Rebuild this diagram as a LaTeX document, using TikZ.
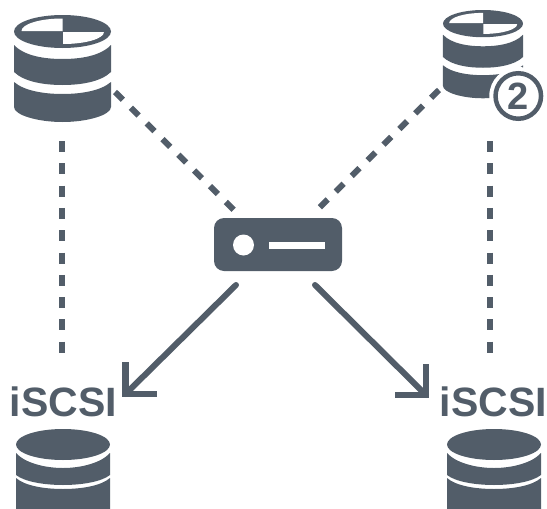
\documentclass[tikz,border=0pt]{standalone}
\usepackage{fontspec}
\setmainfont{Liberation Sans}
\definecolor{ink}{HTML}{525D69}
\tikzset{
  dashline/.style={draw=ink,line width=6pt,dash pattern=on 11pt off 11.3pt},
  arrowline/.style={draw=ink,line width=6pt,line cap=round},
  headline/.style={draw=ink,line width=6.5pt,line join=miter},
  label/.style={text=ink,font=\fontsize{41}{41}\selectfont\bfseries,inner sep=0pt},
  serverbox/.style={fill=ink,rounded corners=10pt,minimum width=128pt,minimum height=53pt,inner sep=0pt}
}
\newcommand{\topdb}[3]{%
 \begin{scope}[shift={(#1,#2)},x=#3pt,y=-#3pt]
  \fill[ink] (0,16.5) ellipse (48.5 and 16.5);
  \fill[white] (0,3.5) arc[start angle=270,end angle=180,x radius=41,y radius=12.5] -- (0,16) -- cycle;
  \fill[white] (41.5,17) arc[start angle=0,end angle=90,x radius=41,y radius=12] -- (0.5,17) -- cycle;
  \fill[ink] (-48.5,30) .. controls (-38,41) and (-18,44) .. (0,44) .. controls (18,44) and (38,41) .. (48.5,30)
     -- (48.5,57) .. controls (38,67) and (18,70) .. (0,70) .. controls (-18,70) and (-38,67) .. (-48.5,57) -- cycle;
  \fill[ink] (-48.5,67) .. controls (-38,76) and (-18,79) .. (0,79) .. controls (18,79) and (38,76) .. (48.5,67)
     -- (48.5,92) .. controls (48.5,100) and (25,107) .. (0,107) .. controls (-25,107) and (-48.5,100) .. (-48.5,92) -- cycle;
 \end{scope}}
\newcommand{\botdb}[2]{%
 \begin{scope}[shift={(#1,#2)}]
  \fill[ink] (0,15.5) ellipse (47 and 15.5);
  \fill[ink] (-47,24) .. controls (-38,34) and (-18,39) .. (0,39) .. controls (18,39) and (38,34) .. (47,24)
     -- (47,46) .. controls (38,53) and (18,56) .. (0,56) .. controls (-18,56) and (-38,53) .. (-47,46) -- cycle;
  \fill[ink] (-47,49) .. controls (-38,57) and (-18,60) .. (0,60) .. controls (18,60) and (38,57) .. (47,49)
     -- (47,80) -- (-47,80) -- cycle;
 \end{scope}}
\begin{document}
\begin{tikzpicture}[x=1pt,y=-1pt]
\useasboundingbox (0,0) rectangle (547,509);
\clip (0,0) rectangle (547,509);
\topdb{62.5}{15}{1}
\topdb{483}{10}{0.825}
\botdb{63}{429}
\botdb{494}{429}
\node[circle,fill=white,minimum size=58pt,inner sep=0pt] (badgehalo) at (518.3,96) {};
\node[circle,draw=ink,line width=4.5pt,fill=white,minimum size=45.5pt,inner sep=0pt,text=ink,font=\fontsize{38}{38}\selectfont\bfseries] (badge) at (518.3,96) {2};
\node[serverbox] (server) at (278,244.5) {};
\node[circle,fill=white,minimum size=21pt,inner sep=0pt] (led) at (243.5,245) {};
\node[fill=white,minimum width=56pt,minimum height=7pt,inner sep=0pt] (slot) at (297,245) {};
\node[label] (il) at (63.5,402) {iSCSI};
\node[label] (ir) at (493.5,402) {iSCSI};
\coordinate (a1) at (62,141);  \coordinate (a2) at (62,353);
\coordinate (b1) at (490,141); \coordinate (b2) at (490,353);
\coordinate (c1) at (115,92);  \coordinate (c2) at (236,212);
\coordinate (d1) at (439,90);  \coordinate (d2) at (318,209);
\coordinate (e1) at (236,285); \coordinate (e2) at (125.5,394);
\coordinate (f1) at (315,285); \coordinate (f2) at (426,395);
\coordinate (e3) at (125.5,362); \coordinate (e4) at (157,394);
\coordinate (f3) at (426,364); \coordinate (f4) at (395,395);
\draw[dashline] (a1) -- (a2);
\draw[dashline] (b1) -- (b2);
\draw[dashline] (c1) -- (c2);
\draw[dashline] (d1) -- (d2);
\draw[arrowline] (e1) -- (e2);
\draw[arrowline] (f1) -- (f2);
\draw[headline] (e3) -- (e2) -- (e4);
\draw[headline] (f3) -- (f2) -- (f4);
\end{tikzpicture}
\end{document}
